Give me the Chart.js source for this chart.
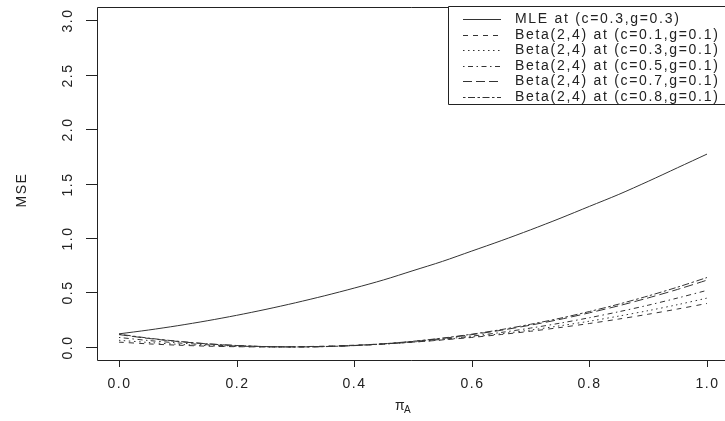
<!DOCTYPE html>
<html lang="en">
<head>
    <meta charset="UTF-8">
    <title>MSE vs pi_A</title>
    <style>
        html, body { margin: 0; padding: 0; background: #fff; }
        #wrap { width: 725px; height: 421px; }
    </style>
</head>
<body>
    <div id="wrap"><canvas id="mse-chart" width="725" height="421"></canvas></div>

    <script src="https://cdn.jsdelivr.net/npm/chart.js"></script>
    <script>
        // x values (pi_A)
        const piA = [0, 0.05, 0.1, 0.15, 0.2, 0.25, 0.3, 0.35, 0.4, 0.45, 0.5,
                     0.55, 0.6, 0.65, 0.7, 0.75, 0.8, 0.85, 0.9, 0.95, 1.0];

        // MSE curves
        const mleC03 = [0.12, 0.155, 0.195, 0.24, 0.29, 0.345, 0.405, 0.47, 0.54, 0.615, 0.70,
                        0.785, 0.88, 0.975, 1.075, 1.18, 1.29, 1.40, 1.52, 1.645, 1.77];
        const betaC01 = [0.044, 0.028, 0.016, 0.007, 0.002, 0, 0.002, 0.007, 0.016, 0.028, 0.044,
                         0.064, 0.087, 0.114, 0.144, 0.178, 0.215, 0.256, 0.30, 0.348, 0.399];
        const betaC03 = [0.061, 0.041, 0.024, 0.012, 0.004, 0, 0.001, 0.005, 0.014, 0.027, 0.044,
                         0.066, 0.091, 0.121, 0.155, 0.194, 0.236, 0.283, 0.333, 0.388, 0.448];
        const betaC05 = [0.087, 0.059, 0.037, 0.02, 0.008, 0.002, 0, 0.004, 0.012, 0.026, 0.045,
                         0.07, 0.099, 0.133, 0.173, 0.218, 0.268, 0.323, 0.383, 0.449, 0.519];
        const betaC07 = [0.113, 0.078, 0.05, 0.028, 0.013, 0.003, 0, 0.003, 0.013, 0.028, 0.05,
                         0.078, 0.113, 0.153, 0.20, 0.253, 0.313, 0.378, 0.45, 0.528, 0.613];
        const betaC08 = [0.117, 0.081, 0.052, 0.029, 0.013, 0.003, 0, 0.003, 0.013, 0.029, 0.052,
                         0.081, 0.117, 0.159, 0.208, 0.263, 0.325, 0.393, 0.468, 0.549, 0.637];

        const seriesLabels = [
            "MLE at (c=0.3,g=0.3)",
            "Beta(2,4) at (c=0.1,g=0.1)",
            "Beta(2,4) at (c=0.3,g=0.1)",
            "Beta(2,4) at (c=0.5,g=0.1)",
            "Beta(2,4) at (c=0.7,g=0.1)",
            "Beta(2,4) at (c=0.8,g=0.1)"
        ];
        const xTicks = [0, 0.2, 0.4, 0.6, 0.8, 1.0];
        const yTicks = [0, 0.5, 1.0, 1.5, 2.0, 2.5, 3.0];

        const seriesData = [mleC03, betaC01, betaC03, betaC05, betaC07, betaC08];
        // R line types: solid, dashed, dotted, dotdash, longdash, twodash
        const dashes = [[], [5, 5], [1.5, 3.5], [1.5, 3.5, 5, 3.5], [9, 4], [2.5, 2.5, 7, 2.5]];

        const INK = '#222';
        const FONT = '14px "Liberation Sans", Arial, sans-serif';

        const datasets = seriesData.map((vals, i) => ({
            label: seriesLabels[i],
            data: vals.map((v, k) => ({ x: piA[k], y: v })),
            borderColor: '#333',
            borderWidth: 1,
            borderDash: dashes[i],
            pointRadius: 0,
            tension: 0.3,
            fill: false
        }));

        // draws the R-style box, axes, labels and legend
        const rAxes = {
            id: 'rAxes',
            afterDraw(chart) {
                const ctx = chart.ctx;
                const area = chart.chartArea;
                const xs = chart.scales.x;
                const ys = chart.scales.y;
                ctx.save();
                ctx.strokeStyle = INK;
                ctx.fillStyle = INK;
                ctx.lineWidth = 1;

                // box (right side falls off the canvas)
                ctx.beginPath();
                ctx.moveTo(area.right + 5, area.top + 0.5);
                ctx.lineTo(area.left + 0.5, area.top + 0.5);
                ctx.lineTo(area.left + 0.5, area.bottom + 0.5);
                ctx.lineTo(area.right + 5, area.bottom + 0.5);
                ctx.stroke();

                ctx.font = FONT;
                ctx.letterSpacing = '1.5px';

                // x ticks
                ctx.textAlign = 'center';
                ctx.textBaseline = 'middle';
                xTicks.forEach(t => {
                    const px = Math.round(xs.getPixelForValue(t)) + 0.5;
                    ctx.beginPath();
                    ctx.moveTo(px, area.bottom);
                    ctx.lineTo(px, area.bottom + 7);
                    ctx.stroke();
                    ctx.fillText(t.toFixed(1), px, area.bottom + 24);
                });

                // y ticks, labels rotated like R
                yTicks.forEach(t => {
                    const py = Math.round(ys.getPixelForValue(t)) + 0.5;
                    ctx.beginPath();
                    ctx.moveTo(area.left, py);
                    ctx.lineTo(area.left - 11, py);
                    ctx.stroke();
                    ctx.save();
                    ctx.translate(area.left - 29, py);
                    ctx.rotate(-Math.PI / 2);
                    ctx.fillText(t.toFixed(1), 0, 0);
                    ctx.restore();
                });

                // axis titles
                ctx.save();
                ctx.translate(22, 190);
                ctx.rotate(-Math.PI / 2);
                ctx.fillText('MSE', 0, 0);
                ctx.restore();

                ctx.textAlign = 'left';
                ctx.fillText('\u03c0', 395, 406);
                ctx.font = '10px "Liberation Sans", Arial, sans-serif';
                ctx.letterSpacing = '0px';
                ctx.fillText('A', 404, 410);

                // legend
                const lx = 448, ly = 6, lh = 98;
                ctx.fillStyle = '#fff';
                ctx.fillRect(lx, ly, 725 - lx, lh);
                ctx.strokeStyle = INK;
                ctx.beginPath();
                ctx.moveTo(730, ly + 0.5);
                ctx.lineTo(lx + 0.5, ly + 0.5);
                ctx.lineTo(lx + 0.5, ly + lh + 0.5);
                ctx.lineTo(730, ly + lh + 0.5);
                ctx.stroke();

                ctx.font = FONT;
                ctx.letterSpacing = '1.7px';
                ctx.fillStyle = INK;
                ctx.textBaseline = 'middle';
                chart.data.datasets.forEach((ds, i) => {
                    const y = Math.round(ly + 13 + i * 15.5) + 0.5;
                    ctx.setLineDash(ds.borderDash);
                    ctx.strokeStyle = '#333';
                    ctx.beginPath();
                    ctx.moveTo(463, y);
                    ctx.lineTo(501, y);
                    ctx.stroke();
                    ctx.setLineDash([]);
                    ctx.fillText(ds.label, 515, y);
                });
                ctx.restore();
            }
        };

        new Chart(document.getElementById('mse-chart').getContext('2d'), {
            type: 'line',
            data: { datasets: datasets },
            options: {
                responsive: false,
                animation: false,
                layout: { padding: { left: 97, top: 7, right: 0, bottom: 61 } },
                plugins: { legend: { display: false }, tooltip: { enabled: false } },
                scales: {
                    x: { type: 'linear', display: false, min: -0.0374, max: 1.0306 },
                    y: { type: 'linear', display: false, min: -0.12, max: 3.12 }
                }
            },
            plugins: [rAxes]
        });
    </script>
</body>
</html>
